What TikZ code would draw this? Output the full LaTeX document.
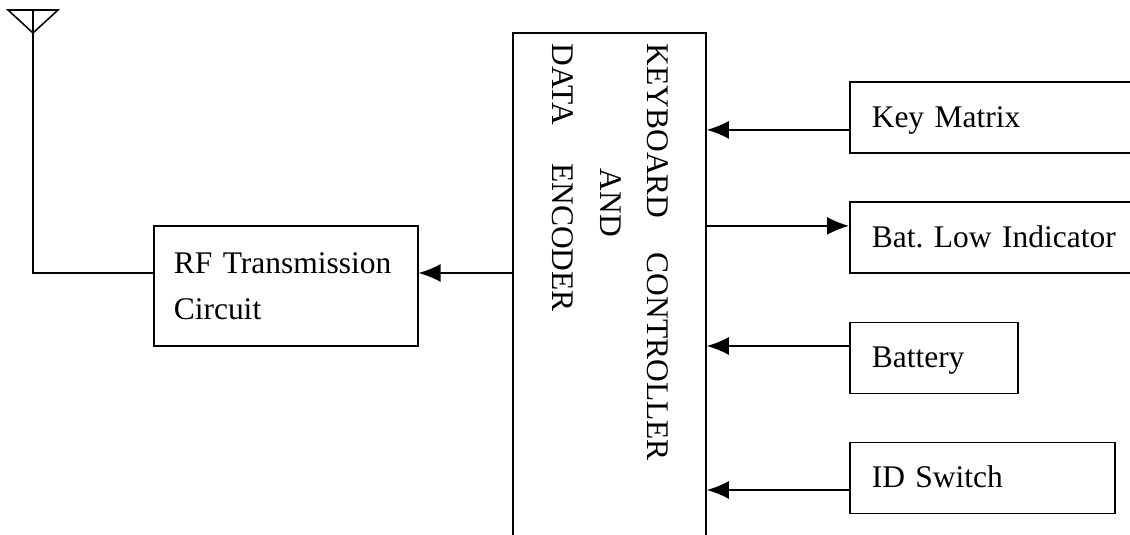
\documentclass[tikz,border=0pt]{standalone}
\usepackage{fontspec}
\setmainfont{Liberation Serif}
\usetikzlibrary{arrows.meta}
\frenchspacing
\begin{document}
\begin{tikzpicture}[>={Latex[length=0.55cm,width=0.45cm]}, line width=1.1pt,
	every node/.style={font=\fontsize{22.4}{32.7}\selectfont},
	blk/.style={draw, anchor=west, minimum height=1.775cm, inner xsep=0.55cm, text width=#1, text height=0.6cm, text depth=0.12cm, align=left}]
		\useasboundingbox (0,0) rectangle (28.25,13.375);

		% antenna
		\coordinate (antl) at (0.2,13.125);
		\coordinate (antr) at (1.45,13.125);
		\coordinate (anttop) at (0.825,13.125);
		\coordinate (ant) at (0.825,12.55);
		\draw (antl) -- (antr) -- (ant) -- cycle;

		\node (rf) [draw, anchor=west, minimum height=3cm, inner xsep=0.5cm, text width=5.6cm, align=left] at (3.825,6.225) {RF Transmission\\Circuit};
		\node (ctrl) [draw, minimum width=4.825cm, minimum height=13.05cm] at (15.2375,6.025) {};
		\node (kbd) [rotate=-90, anchor=base west, inner sep=0pt] at (16.175,12.3) {KEYBOARD\hspace{0.85cm}CONTROLLER};
		\node (and) [rotate=-90, anchor=base west, inner sep=0pt] at (15.0,9.175) {AND};
		\node (data) [rotate=-90, anchor=base west, inner sep=0pt] at (13.8,12.3) {DATA\hspace{0.95cm}ENCODER};

		\node (km) [blk=6.9cm] at (21.225,10.4375) {Key Matrix};
		\node (bat) [blk=6.9cm] at (21.225,7.4375) {Bat. Low Indicator};
		\node (batt) [blk=3.1cm] at (21.225,4.425) {Battery};
		\node (id) [blk=5.525cm] at (21.225,1.425) {ID Switch};

		\draw (anttop) -- (ant);
		\draw [<-] ([yshift=0.325cm]rf.east) coordinate (rfin) -- (rfin -| ctrl.west);
		\draw (ant) -- (ant |- rfin) -- (rfin -| rf.west);
		\draw [->] ([yshift=-0.31cm]km.west) coordinate (kmin) -- (kmin -| ctrl.east);
		\draw [<-] ([yshift=0.29cm]bat.west) coordinate (batout) -- (batout -| ctrl.east);
		\draw [->] ([yshift=0.3cm]batt.west) coordinate (battin) -- (battin -| ctrl.east);
		\draw [->] ([yshift=-0.3cm]id.west) coordinate (idin) -- (idin -| ctrl.east);
	\end{tikzpicture}
\end{document}
